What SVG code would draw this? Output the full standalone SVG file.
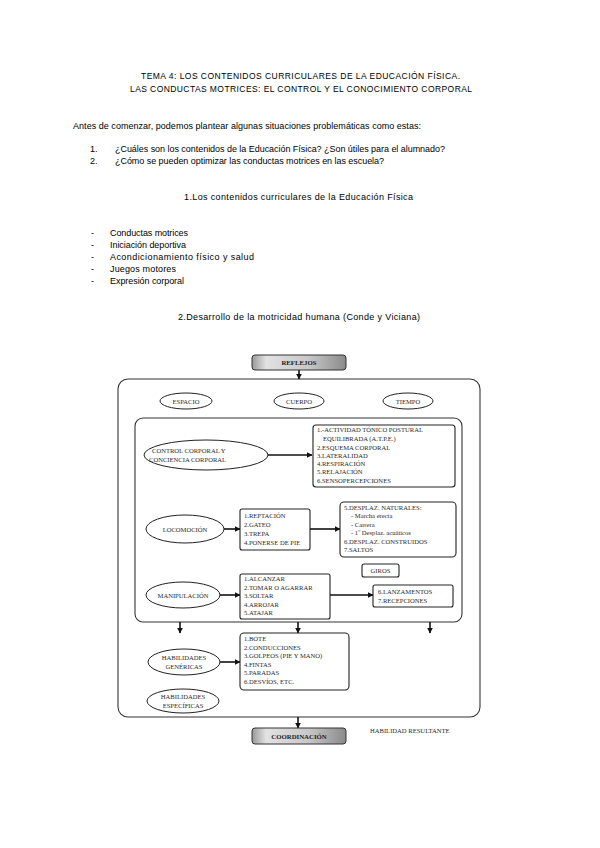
<svg xmlns="http://www.w3.org/2000/svg" width="600" height="848" viewBox="0 0 600 848">
<style>
.b{font-family:"Liberation Sans",Arial,sans-serif;font-size:9px;fill:#000}
.h{font-family:"Liberation Sans",Arial,sans-serif;font-size:8.5px;fill:#000}
.d{font-family:"Liberation Serif","Times New Roman",serif;font-size:6.6px;fill:#2a2a2a}
.dc{font-family:"Liberation Serif","Times New Roman",serif;font-size:6.6px;fill:#2a2a2a;text-anchor:middle}
.db{font-family:"Liberation Serif","Times New Roman",serif;font-size:6.8px;font-weight:bold;fill:#222;text-anchor:middle}
.box{fill:#fff;stroke:#222;stroke-width:1.1}
.ell{fill:#fff;stroke:#222;stroke-width:1}
.frame{fill:none;stroke:#333;stroke-width:1.1}
.arr{fill:none;stroke:#111;stroke-width:1.6;marker-end:url(#ah)}
</style>
<defs>
<marker id="ah" viewBox="0 0 10 10" refX="9" refY="5" markerWidth="6" markerHeight="6" markerUnits="userSpaceOnUse" orient="auto">
<path d="M0,0 L10,5 L0,10 z" fill="#111"/>
</marker>
<linearGradient id="g1" x1="0" y1="0" x2="1" y2="0">
<stop offset="0" stop-color="#999"/>
<stop offset="0.15" stop-color="#e2e2e2"/>
<stop offset="0.6" stop-color="#c8c8c8"/>
<stop offset="1" stop-color="#8a8a8a"/>
</linearGradient>
</defs>
<rect width="600" height="848" fill="#fff"/>

<g id="header">
<text class="h" x="141" y="79" textLength="319" lengthAdjust="spacing">TEMA 4: LOS CONTENIDOS CURRICULARES DE LA EDUCACIÓN FÍSICA.</text>
<text class="h" x="130" y="92" textLength="342" lengthAdjust="spacing">LAS CONDUCTAS MOTRICES: EL CONTROL Y EL CONOCIMIENTO CORPORAL</text>
<text class="b" x="73" y="129" textLength="348" lengthAdjust="spacing">Antes de comenzar, podemos plantear algunas situaciones problemáticas como estas:</text>
<text class="b" x="90" y="152">1.</text>
<text class="b" x="115" y="152" textLength="330" lengthAdjust="spacing">¿Cuáles son los contenidos de la Educación Física? ¿Son útiles para el alumnado?</text>
<text class="b" x="90" y="164">2.</text>
<text class="b" x="115" y="164" textLength="269" lengthAdjust="spacing">¿Cómo se pueden optimizar las conductas motrices en las escuela?</text>
<text class="b" x="184" y="200" textLength="229" lengthAdjust="spacing">1.Los contenidos curriculares de la Educación Física</text>
<text class="b" x="91" y="236">-</text><text class="b" x="110" y="236" textLength="78" lengthAdjust="spacing">Conductas motrices</text>
<text class="b" x="91" y="248">-</text><text class="b" x="110" y="248" textLength="76" lengthAdjust="spacing">Iniciación deportiva</text>
<text class="b" x="91" y="260">-</text><text class="b" x="110" y="260" textLength="144" lengthAdjust="spacing">Acondicionamiento físico y salud</text>
<text class="b" x="91" y="272">-</text><text class="b" x="110" y="272" textLength="66" lengthAdjust="spacing">Juegos motores</text>
<text class="b" x="91" y="284">-</text><text class="b" x="110" y="284" textLength="74" lengthAdjust="spacing">Expresión corporal</text>
<text class="b" x="178" y="320" textLength="242" lengthAdjust="spacing">2.Desarrollo de la motricidad humana (Conde y Viciana)</text>
</g>

<g id="frames">
<rect class="frame" x="118" y="379" width="362" height="338" rx="10"/>
<rect class="frame" x="135" y="418" width="327" height="204" rx="8"/>
</g>

<g id="connectors">
<line class="arr" x1="299" y1="370" x2="299" y2="379"/>
<line class="arr" x1="268" y1="455" x2="312" y2="455"/>
<line class="arr" x1="224" y1="529" x2="240" y2="529"/>
<line class="arr" x1="310" y1="529" x2="340" y2="529"/>
<line class="arr" x1="219" y1="595" x2="240" y2="595"/>
<line class="arr" x1="330" y1="595" x2="373" y2="595"/>
<line class="arr" x1="180" y1="622" x2="180" y2="633"/>
<line class="arr" x1="298" y1="622" x2="298" y2="633"/>
<line class="arr" x1="430" y1="622" x2="430" y2="633"/>
<line class="arr" x1="220" y1="662" x2="240" y2="662"/>
<line class="arr" x1="298" y1="717" x2="298" y2="728"/>
</g>

<g id="reflejos">
<rect x="252" y="355" width="94" height="15" rx="3" fill="url(#g1)" stroke="#333" stroke-width="1"/>
<text class="db" x="299" y="365">REFLEJOS</text>
</g>

<g id="espacio"><ellipse class="ell" cx="186" cy="401" rx="26" ry="8"/><text class="dc" x="186" y="403.5">ESPACIO</text></g>
<g id="cuerpo"><ellipse class="ell" cx="299" cy="401" rx="25" ry="8"/><text class="dc" x="299" y="403.5">CUERPO</text></g>
<g id="tiempo"><ellipse class="ell" cx="408" cy="401" rx="25" ry="8"/><text class="dc" x="408" y="403.5">TIEMPO</text></g>

<g id="control">
<ellipse class="ell" cx="206" cy="455" rx="62" ry="15"/>
<text class="d" x="152" y="453">CONTROL CORPORAL Y</text>
<text class="d" x="149" y="462">CONCIENCIA CORPORAL</text>
</g>

<g id="box-control">
<rect class="box" x="313" y="425" width="142" height="62" rx="3"/>
<text class="d" x="317" y="432">1.-ACTIVIDAD TÓNICO POSTURAL</text>
<text class="d" x="323" y="441">EQUILIBRADA (A.T.P.E.)</text>
<text class="d" x="317" y="449.5">2.ESQUEMA CORPORAL</text>
<text class="d" x="317" y="458">3.LATERALIDAD</text>
<text class="d" x="317" y="466">4.RESPIRACIÓN</text>
<text class="d" x="317" y="474">5.RELAJACIÓN</text>
<text class="d" x="317" y="482.5">6.SENSOPERCEPCIONES</text>
</g>

<g id="locomocion">
<ellipse class="ell" cx="185" cy="529" rx="39" ry="14"/>
<text class="dc" x="185" y="531.5">LOCOMOCIÓN</text>
</g>

<g id="box-loco1">
<rect class="box" x="240" y="509" width="70" height="41" rx="2"/>
<text class="d" x="244" y="518">1.REPTACIÓN</text>
<text class="d" x="244" y="527">2.GATEO</text>
<text class="d" x="244" y="536">3.TREPA</text>
<text class="d" x="244" y="545">4.PONERSE DE PIE</text>
</g>

<g id="box-loco2">
<rect class="box" x="340" y="502" width="116" height="55" rx="4"/>
<text class="d" x="344" y="510">5.DESPLAZ. NATURALES:</text>
<text class="d" x="351" y="518">- Marcha erecta</text>
<text class="d" x="351" y="526.5">- Carrera</text>
<text class="d" x="351" y="535">- 1º Desplaz. acuáticos</text>
<text class="d" x="344" y="543.5">6.DESPLAZ. CONSTRUIDOS</text>
<text class="d" x="344" y="552">7.SALTOS</text>
</g>

<g id="giros">
<rect class="box" x="362" y="564" width="37" height="13" rx="2"/>
<text class="dc" x="380.5" y="573">GIROS</text>
</g>

<g id="manipulacion">
<ellipse class="ell" cx="183" cy="595" rx="37" ry="13"/>
<text class="dc" x="183" y="597.5">MANIPULACIÓN</text>
</g>

<g id="box-mani1">
<rect class="box" x="240" y="574" width="90" height="45" rx="2"/>
<text class="d" x="244" y="581">1.ALCANZAR</text>
<text class="d" x="244" y="589.5">2.TOMAR O AGARRAR</text>
<text class="d" x="244" y="598">3.SOLTAR</text>
<text class="d" x="244" y="606.5">4.ARROJAR</text>
<text class="d" x="244" y="615">5.ATAJAR</text>
</g>

<g id="box-mani2">
<rect class="box" x="373" y="585" width="80" height="22" rx="2"/>
<text class="d" x="378" y="594">6.LANZAMENTOS</text>
<text class="d" x="378" y="603">7.RECEPCIONES</text>
</g>

<g id="genericas">
<ellipse class="ell" cx="184" cy="662" rx="36" ry="13"/>
<text class="dc" x="184" y="660">HABILIDADES</text>
<text class="dc" x="184" y="669">GENÉRICAS</text>
</g>

<g id="box-genericas">
<rect class="box" x="240" y="633" width="109" height="57" rx="4"/>
<text class="d" x="244" y="641">1.BOTE</text>
<text class="d" x="244" y="649.5">2.CONDUCCIONES</text>
<text class="d" x="244" y="658">3.GOLPEOS (PIE Y MANO)</text>
<text class="d" x="244" y="666.5">4.FINTAS</text>
<text class="d" x="244" y="675">5.PARADAS</text>
<text class="d" x="244" y="683.5">6.DESVÍOS, ETC.</text>
</g>

<g id="especificas">
<ellipse class="ell" cx="183" cy="701" rx="36" ry="12"/>
<text class="dc" x="183" y="699">HABILIDADES</text>
<text class="dc" x="183" y="708">ESPECÍFICAS</text>
</g>

<g id="coordinacion">
<rect x="252" y="728" width="94" height="16" rx="3" fill="url(#g1)" stroke="#333" stroke-width="1"/>
<text class="db" x="299" y="739">COORDINACIÓN</text>
</g>

<g id="resultante">
<text class="d" x="370" y="733">HABILIDAD RESULTANTE</text>
</g>
</svg>
